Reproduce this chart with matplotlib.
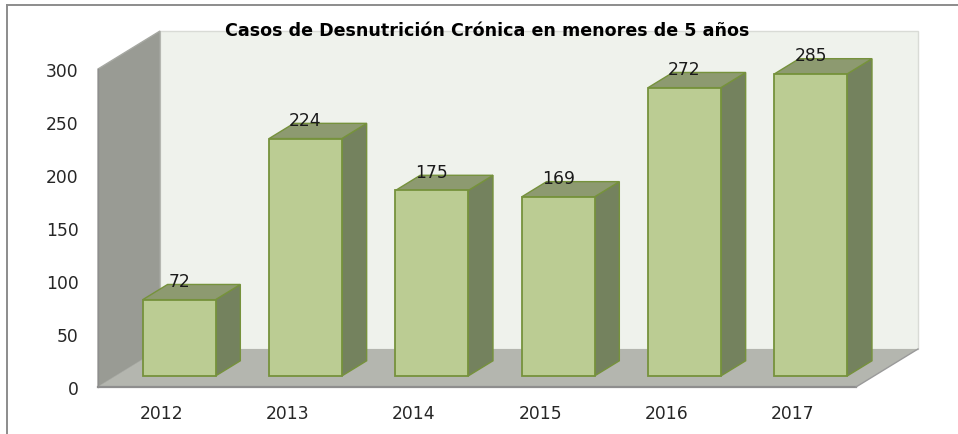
import matplotlib
matplotlib.use('Agg')
import matplotlib.pyplot as plt
from matplotlib.lines import Line2D
from matplotlib.patches import Polygon

years = ['2012', '2013', '2014', '2015', '2016', '2017']
casos = [72, 224, 175, 169, 272, 285]
y_ticks = [0, 50, 100, 150, 200, 250, 300]
titulo = 'Casos de Desnutrición Crónica en menores de 5 años'

W, H = 958, 435
# front plane of the 3d box, in pixels
left, right, top, bottom = 98, 856, 70, 388

# depth of the box in data units
depth_x = 62 / 126.33
depth_y = 38 / 1.06
bar_w = 0.576
z_front = 0.29
z_back = 0.69

fig = plt.figure(figsize=(W / 100, H / 100), dpi=100, facecolor='white')
ax = fig.add_axes([left / W, 1 - bottom / H, (right - left) / W, (bottom - top) / H])
ax.patch.set_visible(False)
for s in ax.spines.values():
    s.set_visible(False)
ax.set_xlim(0, len(years))
ax.set_ylim(0, 300)


def pt(x, y, z):
    return (x + z * depth_x, y + z * depth_y)


def poly(points, face, edge='none', lw=0, zo=1):
    p = Polygon(points, closed=True, facecolor=face, edgecolor=edge, linewidth=lw, zorder=zo, clip_on=False)
    ax.add_patch(p)


n = len(years)
# back wall, side wall, floor
poly([pt(0, 0, 1), pt(n, 0, 1), pt(n, 300, 1), pt(0, 300, 1)], '#eff2ec', '#d9dbd6', 1, 1)
poly([pt(0, 0, 0), pt(0, 0, 1), pt(0, 300, 1), pt(0, 300, 0)], '#999b94', '#a6a8a2', 1, 2)
poly([pt(0, 0, 0), pt(n, 0, 0), pt(n, 0, 1), pt(0, 0, 1)], '#b4b6af', 'none', 0, 3)
ax.plot([0, n], [0, 0], color='#8e8e8e', lw=1.6, zorder=4, clip_on=False)
ax.plot([n, n + depth_x], [0, depth_y], color='#9a9a9a', lw=1, zorder=4, clip_on=False)
ax.plot([0, 0], [0, 300], color='#8e8e8e', lw=1, zorder=4, clip_on=False)

edge = '#76923c'
xs = [i + 0.5 for i in range(n)]
for x, v in zip(xs, casos):
    x0 = x - bar_w / 2
    x1 = x + bar_w / 2
    # side and top faces
    poly([pt(x1, 0, z_front), pt(x1, 0, z_back), pt(x1, v, z_back), pt(x1, v, z_front)], '#74825e', edge, 1, 5)
    poly([pt(x0, v, z_front), pt(x1, v, z_front), pt(x1, v, z_back), pt(x0, v, z_back)], '#8d9a70', edge, 1, 5)
    # front face
    fx, fy = pt(x, 0, z_front)
    ax.bar(fx, v, width=bar_w, bottom=fy, color='#bbcc93', edgecolor=edge, linewidth=1.3, zorder=6, clip_on=False)
    lx, ly = pt(x, v, z_back)
    ax.text(pt(x, v, z_front)[0], ly + 3, str(v), ha='center', va='center', fontsize=12.3,
            color='#1a1a1a', zorder=7, family='DejaVu Sans')

ax.set_xticks(xs)
ax.set_xticklabels(years, family='DejaVu Sans')
ax.set_yticks(y_ticks)
ax.set_yticklabels([str(t) for t in y_ticks], family='DejaVu Sans')
ax.tick_params(axis='both', length=0, labelsize=12.3, labelcolor='#262626')
ax.tick_params(axis='x', pad=12)
ax.tick_params(axis='y', pad=14)

fig.text(487 / W, 1 - 31 / H, titulo, ha='center', va='center', fontsize=12.6, fontweight='bold',
         family='DejaVu Sans', color='black', zorder=10)

# outer frame, only left and top are visible
fig.add_artist(Line2D([7 / W, 7 / W], [0, 1 - 5.5 / H], color='#8c8c8c', lw=1.4))
fig.add_artist(Line2D([7 / W, 1], [1 - 5.5 / H, 1 - 5.5 / H], color='#8c8c8c', lw=1.4))

fig.savefig('out.png', dpi=100)
